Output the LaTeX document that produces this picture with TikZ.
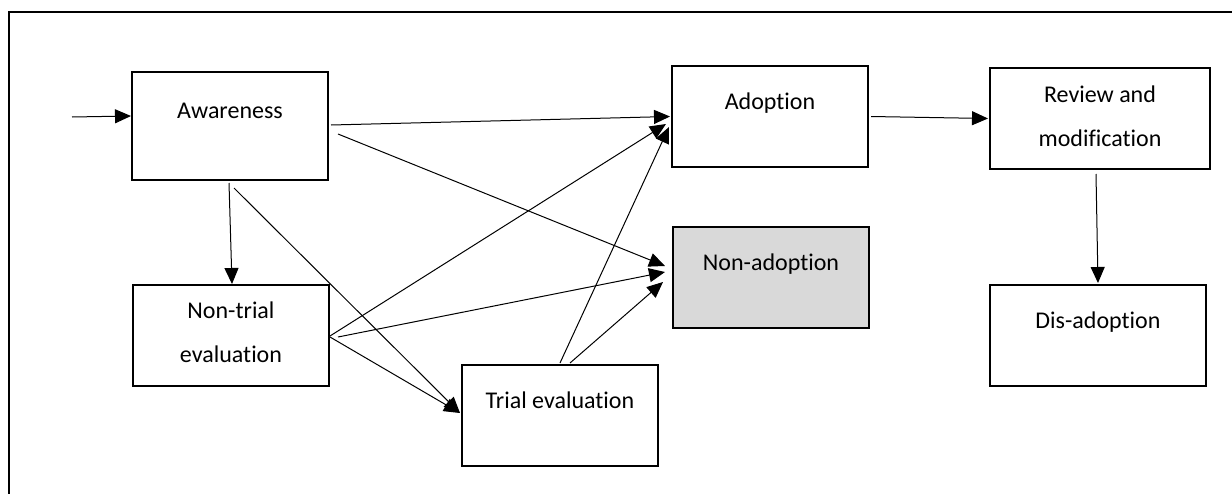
\documentclass[tikz,border=0pt]{standalone}
\usepackage{fontspec}
\setmainfont{Carlito}[Ligatures={NoCommon}]
\usetikzlibrary{arrows.meta,calc}
\definecolor{nagray}{RGB}{217,217,217}
\begin{document}
\begin{tikzpicture}[x=0.5pt,y=-0.5pt,
  box/.style={draw,line width=1pt,rectangle,inner sep=0pt,anchor=north west},
  lab/.style={anchor=base,font=\fontsize{12}{22}\selectfont,align=center,inner sep=0pt},
  conn/.style={line width=0.5pt,-{Triangle[length=8pt,width=7pt]}}]
\useasboundingbox (0,0) rectangle (1232,493);
\clip (0,0) rectangle (1232,493);
\draw[line width=1.2pt] (9,520) -- (9,12) -- (1260,12);
% boxes
\node[box,minimum width=98pt,minimum height=54pt] (aw) at (131,71) {};
\node[box,minimum width=98pt,minimum height=50.5pt] (ad) at (671,65) {};
\node[box,fill=nagray,minimum width=98pt,minimum height=50.5pt] (na) at (672,226) {};
\node[box,minimum width=110pt,minimum height=50.5pt] (rv) at (989,67) {};
\node[box,minimum width=108pt,minimum height=50.5pt] (da) at (989,284) {};
\node[box,minimum width=98pt,minimum height=50.5pt] (nt) at (132,284) {};
\node[box,minimum width=98pt,minimum height=50.5pt] (tr) at (461,364) {};
% texts (base anchor of a two-line node is the last line)
\node[lab] (awt) at ($(aw.north)+(0,47)$) {Awareness};
\node[lab] (adt) at ($(ad.north)+(0,44)$) {Adoption};
\node[lab] (nat) at ($(na.north)+(0,44)$) {Non-adoption};
\node[lab] (rvt) at ($(rv.north)+(0,79)$) {Review and\\modification};
\node[lab] (dat) at ($(da.north)+(0,44)$) {Dis-adoption};
\node[lab] (ntt) at ($(nt.north)+(0,78)$) {Non-trial\\evaluation};
\node[lab] (trt) at ($(tr.north)+(0,44)$) {Trial evaluation};
% connectors
\coordinate (in) at (72,117);
\draw[conn] (in) -- ([shift={(0,-10)}]aw.west);
\draw[conn] ([shift={(2,-1)}]aw.east) -- ([shift={(-1,0)}]ad.west);
\draw[conn] ([shift={(9,8)}]aw.east) -- ([shift={(-7,-11.5)}]na.west);
\draw[conn] ([shift={(-1,2)}]aw.south) -- ([shift={(1,0)}]nt.north);
\draw[conn] ([shift={(4,7)}]aw.south) -- ([shift={(-1,-2.5)}]tr.west);
\draw[conn] ([shift={(0,0.5)}]nt.east) -- ([shift={(-5,7.5)}]ad.west);
\draw[conn] ([shift={(8,1.5)}]nt.east) -- ([shift={(-7,-5.5)}]na.west);
\draw[conn] ([shift={(0,1.5)}]nt.east) -- ([shift={(-1,-2.5)}]tr.west);
\draw[conn] ([shift={(0,-1)}]tr.north) -- ([shift={(-2,10.5)}]ad.west);
\draw[conn] ([shift={(10,-1)}]tr.north) -- ([shift={(-9,4.5)}]na.west);
\draw[conn] ([shift={(2,0)}]ad.east) -- ([shift={(-1,0)}]rv.west);
\draw[conn] ([shift={(-4,4)}]rv.south) -- ([shift={(0,-1)}]da.north);
\end{tikzpicture}
\end{document}
